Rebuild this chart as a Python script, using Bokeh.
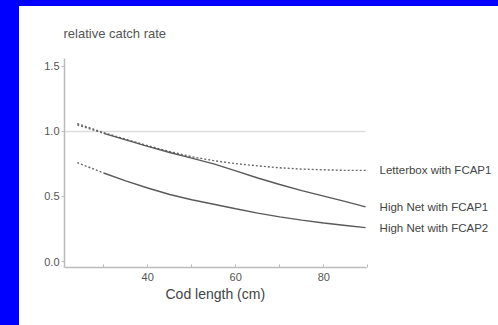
from bokeh.plotting import figure
from bokeh.models import Label, FixedTicker, GlobalInlineStyleSheet, Range1d, Title
from bokeh.embed import file_html
from bokeh.resources import INLINE

# data
cod_length = [24, 30, 35, 40, 45, 50, 55, 60, 65, 70, 75, 80, 85, 89.5]
letterbox_fcap1 = [1.06, 0.99, 0.94, 0.89, 0.845, 0.805, 0.775, 0.752, 0.735, 0.72, 0.71, 0.705, 0.70, 0.70]
highnet_fcap1 = [1.05, 0.985, 0.935, 0.885, 0.838, 0.795, 0.75, 0.697, 0.642, 0.592, 0.545, 0.503, 0.46, 0.42]
highnet_fcap2 = [0.76, 0.68, 0.62, 0.565, 0.515, 0.475, 0.44, 0.405, 0.372, 0.343, 0.318, 0.296, 0.277, 0.26]
series_names = ["Letterbox with FCAP1", "High Net with FCAP1", "High Net with FCAP2"]
x_ticks = [30, 40, 50, 60, 70, 80, 90]
x_tick_labels = {30: "", 40: "40", 50: "", 60: "60", 70: "", 80: "80", 90: ""}
y_ticks = [0.0, 0.5, 1.0, 1.5]
x_axis_bounds = (21.1, 89.6)

line_col = "#5a5a5a"
text_col = "#555555"
axis_col = "#bbbbbb"

p = figure(width=479, height=319, output_backend="svg", toolbar_location=None,
           x_range=Range1d(21.1, 119.7), y_range=Range1d(-0.046, 1.56),
           min_border_left=45, min_border_right=0, min_border_top=52, min_border_bottom=58,
           title="relative catch rate")
p.stylesheets = [GlobalInlineStyleSheet(
    css="html { background-color: #0000ff; } body { margin: 6px 0 0 19px; background-color: #ffffff; }")]
p.outline_line_color = None
p.grid.grid_line_color = None
p.background_fill_color = "white"
p.border_fill_color = "white"

p.title.text_font = "Liberation Sans"
p.title.text_font_size = "13px"
p.title.text_font_style = "normal"
p.title.text_color = text_col
p.title.offset = -1
p.title.standoff = 35

# axes
p.xaxis.ticker = FixedTicker(ticks=x_ticks)
p.xaxis.bounds = x_axis_bounds
p.xaxis.major_label_overrides = x_tick_labels
p.xaxis.major_tick_in = 3
p.xaxis.major_tick_out = 0
p.xaxis.major_label_standoff = 5
p.xaxis.minor_tick_line_color = None

p.yaxis.ticker = FixedTicker(ticks=y_ticks)
p.yaxis.major_tick_in = 0
p.yaxis.major_tick_out = 3
p.yaxis.major_label_standoff = 2
p.yaxis.minor_tick_line_color = None
p.yaxis.major_label_overrides = {0.0: "0.0", 0.5: "0.5", 1.0: "1.0", 1.5: "1.5"}

for ax in (p.xaxis, p.yaxis):
    ax.axis_line_color = axis_col
    ax.axis_line_width = 1.5
    ax.major_tick_line_color = axis_col
    ax.major_label_text_font = "Liberation Sans"
    ax.major_label_text_font_size = "11px"
    ax.major_label_text_color = text_col

# x-axis title, placed under the axis (left-aligned with pixel offset)
p.add_layout(Title(text="Cod length (cm)", align="left", offset=101, standoff=0,
                   text_font="Liberation Sans", text_font_size="14px",
                   text_font_style="normal", text_color="#444444"), "below")

# reference line at 1.0
p.line([x_axis_bounds[0], cod_length[-1]], [1.0, 1.0], line_color="#dddddd", line_width=1.5)

# curves
p.line(cod_length, letterbox_fcap1, line_color="#6a6a6a", line_width=1.4, line_dash="2 2")
for series in (highnet_fcap1, highnet_fcap2):
    p.line(cod_length[:2], series[:2], line_color="#6a6a6a", line_width=1.4, line_dash="2 2")
    p.line(cod_length[1:], series[1:], line_color=line_col, line_width=1.4)

for name, series in zip(series_names, (letterbox_fcap1, highnet_fcap1, highnet_fcap2)):
    p.add_layout(Label(x=cod_length[-1], y=series[-1], x_offset=14, text=name,
                       text_baseline="middle", text_font="Liberation Sans",
                       text_font_size="11.5px", text_color="#444444"))

open("out.html", "w").write(file_html(p, INLINE))
